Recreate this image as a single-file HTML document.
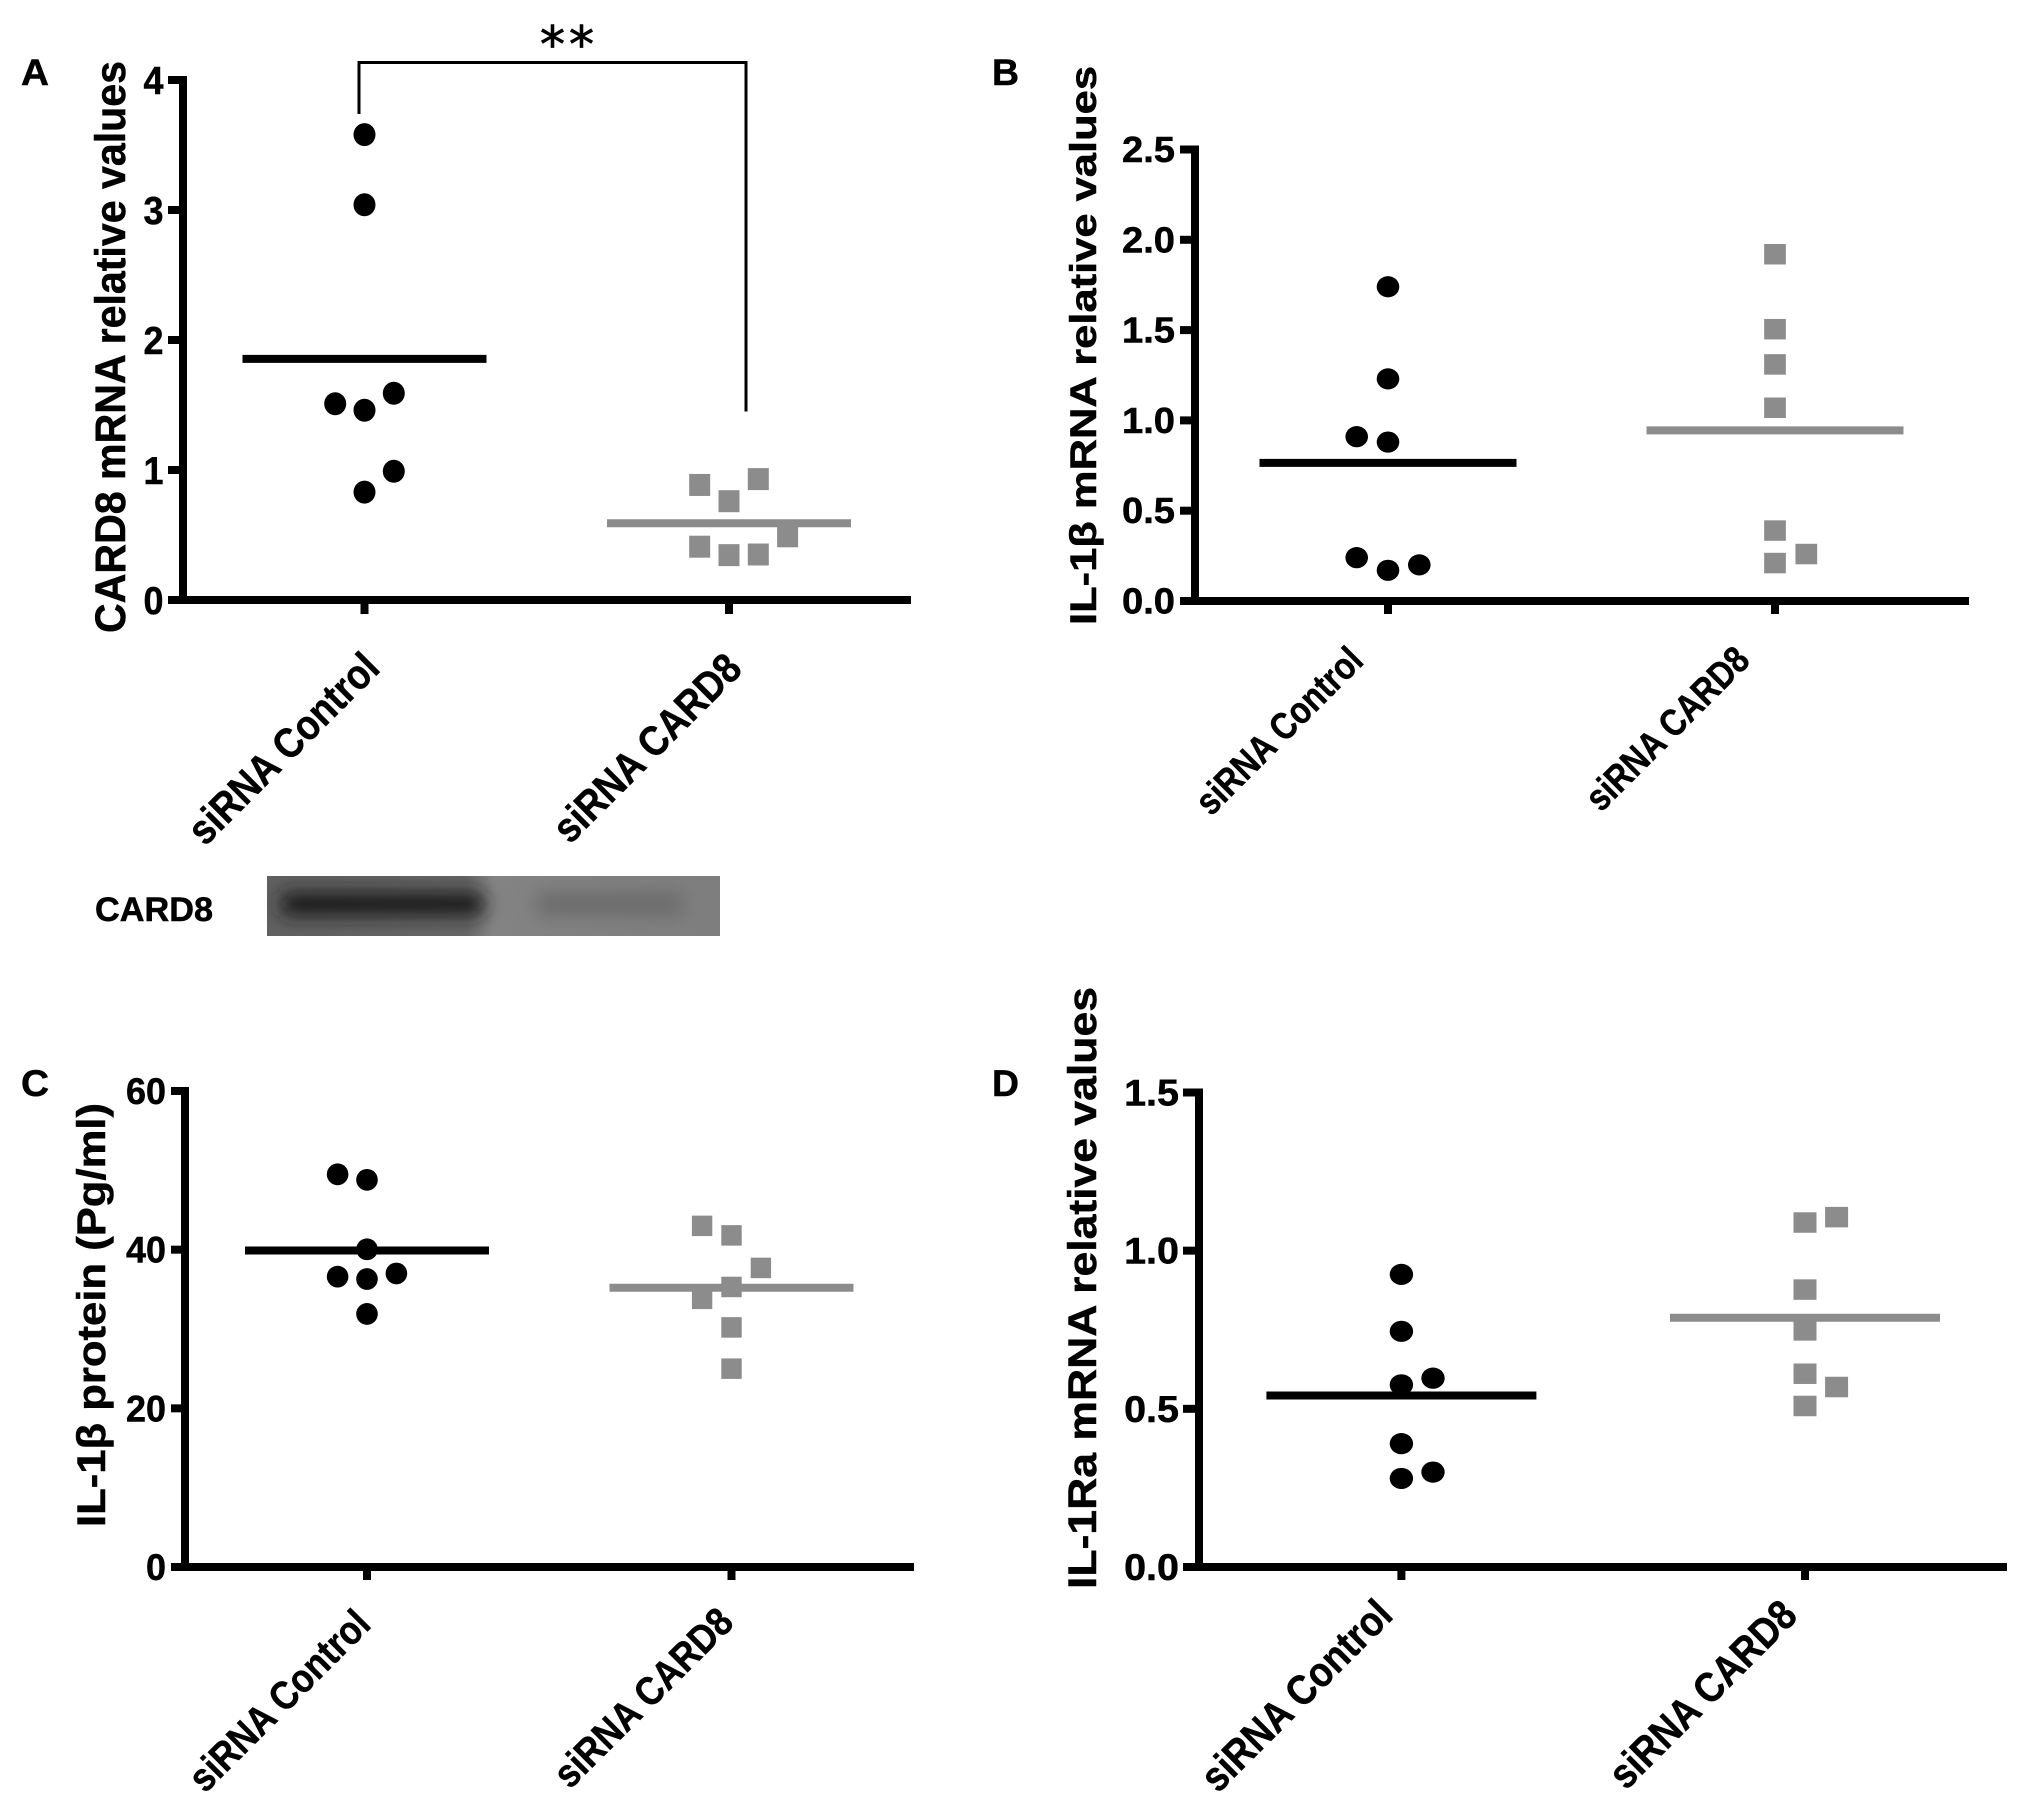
<!DOCTYPE html>
<html lang="en">
<head>
<meta charset="utf-8">
<title>CARD8 siRNA scatter panels</title>
<style>
  html, body { margin: 0; padding: 0; background: #fff; }
  svg { display: block; }
  text { font-family: "Liberation Sans", "DejaVu Sans", sans-serif; font-weight: bold; fill: #000; stroke: #000; stroke-width: 0.5px; }
</style>
</head>
<body>
<svg id="figure" xmlns="http://www.w3.org/2000/svg" width="2031" height="1814" viewBox="0 0 2031 1814">
  <defs>
    <clipPath id="blot-clip"><rect x="267" y="876" width="453" height="60"/></clipPath>
    <linearGradient id="blot-bg" x1="0" y1="0" x2="1" y2="0">
      <stop offset="0" stop-color="#606060"/>
      <stop offset="0.44" stop-color="#666666"/>
      <stop offset="0.5" stop-color="#838383"/>
      <stop offset="1" stop-color="#7e7e7e"/>
    </linearGradient>
    <filter id="blot-blur" x="-30%" y="-100%" width="160%" height="300%"><feGaussianBlur stdDeviation="9"/></filter>
  </defs>

  <rect width="2031" height="1814" fill="#fff"/>

  <g id="panel-a">
    <text x="21" y="85" font-size="37" textLength="28" lengthAdjust="spacingAndGlyphs">A</text>
    <text transform="translate(125,633) rotate(-90)" font-size="43" textLength="572" lengthAdjust="spacingAndGlyphs">CARD8 mRNA relative values</text>
    <path d="M359 114V62.5H746V411.5" fill="none" stroke="#000" stroke-width="3"/>
    <text x="540" y="62" font-size="50" letter-spacing="4" style="font-family:'DejaVu Sans',sans-serif;font-weight:normal;stroke-width:0.8px">**</text>
  </g>
  <g id="panel-b">
    <text x="992" y="85" font-size="37" textLength="27" lengthAdjust="spacingAndGlyphs">B</text>
    <text transform="translate(1096,625) rotate(-90)" font-size="37" textLength="559" lengthAdjust="spacingAndGlyphs">IL-1β mRNA relative values</text>
  </g>
  <g id="panel-c">
    <text x="21" y="1096" font-size="37" textLength="28" lengthAdjust="spacingAndGlyphs">C</text>
    <text transform="translate(105,1527) rotate(-90)" font-size="40" textLength="424" lengthAdjust="spacingAndGlyphs">IL-1β protein (Pg/ml)</text>
  </g>
  <g id="panel-d">
    <text x="992" y="1096" font-size="37" textLength="27" lengthAdjust="spacingAndGlyphs">D</text>
    <text transform="translate(1096,1589) rotate(-90)" font-size="40" textLength="602" lengthAdjust="spacingAndGlyphs">IL-1Ra mRNA relative values</text>
  </g>

  <g id="western-blot">
    <text x="95" y="921" font-size="34" textLength="118" lengthAdjust="spacingAndGlyphs">CARD8</text>
    <g clip-path="url(#blot-clip)">
      <rect x="267" y="876" width="453" height="60" fill="url(#blot-bg)"/>
      <rect x="280" y="892" width="205" height="24" rx="10" fill="#1c1c1c" filter="url(#blot-blur)"/>
      <rect x="535" y="892" width="150" height="24" rx="10" fill="#6c6c6c" filter="url(#blot-blur)"/>
    </g>
  </g>
</svg>

<script>
// ---- data ----
const categories = ['siRNA Control', 'siRNA CARD8'];

const ticksA = [0, 1, 2, 3, 4];
const tickLabelsA = ['0', '1', '2', '3', '4'];
const controlA = [3.58, 3.04, 1.59, 1.51, 1.46, 0.99, 0.83];
const controlSlotsA = [0, 0, 1, -1, 0, 1, 0];
const card8A = [0.93, 0.885, 0.76, 0.49, 0.41, 0.35, 0.345];
const card8SlotsA = [1, -1, 0, 2, -1, 1, 0];
const meansA = [1.855, 0.59];

const ticksB = [0, 0.5, 1, 1.5, 2, 2.5];
const tickLabelsB = ['0.0', '0.5', '1.0', '1.5', '2.0', '2.5'];
const controlB = [1.74, 1.23, 0.91, 0.88, 0.24, 0.2, 0.17];
const controlSlotsB = [0, 0, -1, 0, -1, 1, 0];
const card8B = [1.92, 1.505, 1.31, 1.07, 0.39, 0.26, 0.21];
const card8SlotsB = [0, 0, 0, 0, 0, 1, 0];
const meansB = [0.765, 0.945];

const ticksC = [0, 20, 40, 60];
const tickLabelsC = ['0', '20', '40', '60'];
const controlC = [49.5, 48.8, 40.05, 37, 36.6, 36.3, 31.9];
const controlSlotsC = [-1, 0, 0, 1, -1, 0, 0];
const card8C = [43, 41.8, 37.7, 35.3, 33.8, 30.2, 25];
const card8SlotsC = [-1, 0, 1, 0, -1, 0, 0];
const meansC = [39.9, 35.2];

const ticksD = [0, 0.5, 1, 1.5];
const tickLabelsD = ['0.0', '0.5', '1.0', '1.5'];
const controlD = [0.925, 0.745, 0.597, 0.576, 0.39, 0.3, 0.28];
const controlSlotsD = [0, 0, 1, 0, 0, 1, 0];
const card8D = [1.106, 1.089, 0.877, 0.748, 0.611, 0.569, 0.509];
const card8SlotsD = [1, 0, 0, 0, 0, 1, 0];
const meansD = [0.542, 0.788];

// ---- panel layouts ----
const panels = [
  { id: 'panel-a', key: 'a', ticks: ticksA, labels: tickLabelsA, control: controlA, controlSlots: controlSlotsA, card8: card8A, card8Slots: card8SlotsA, means: meansA,
    axisX: 183, y0: 600, yTop: 80, yMax: 4, left: 168, right: 911, cat0: 364.5, cat1: 729, step: 29.3, tickBottom: 614,
    rx: 11, ry: 11.5, sqW: 21, sqH: 22, halfMean: 122, labelEnd: 163.5, labelSize: 39, charW: 20, labelDrop: 14,
    textStart: [[205, 847], [570, 845]], textLen: [250, 246], textSize: 42 },
  { id: 'panel-b', key: 'b', ticks: ticksB, labels: tickLabelsB, control: controlB, controlSlots: controlSlotsB, card8: card8B, card8Slots: card8SlotsB, means: meansB,
    axisX: 1195, y0: 601, yTop: 149.5, yMax: 2.5, left: 1180, right: 1969, cat0: 1388, cat1: 1775, step: 31.3, tickBottom: 614,
    rx: 11.3, ry: 10.6, sqW: 21.7, sqH: 20.5, halfMean: 128.5, labelEnd: 1175, labelSize: 36, charW: 17.67, labelDrop: 12.5,
    textStart: [[1211, 817], [1601, 813]], textLen: [218, 213], textSize: 38 },
  { id: 'panel-c', key: 'c', ticks: ticksC, labels: tickLabelsC, control: controlC, controlSlots: controlSlotsC, card8: card8C, card8Slots: card8SlotsC, means: meansC,
    axisX: 185, y0: 1567, yTop: 1091, yMax: 60, left: 171, right: 914, cat0: 367, cat1: 731.5, step: 29.4, tickBottom: 1580,
    rx: 10.8, ry: 10.9, sqW: 20.4, sqH: 20.5, halfMean: 122, labelEnd: 166, labelSize: 37, charW: 20, labelDrop: 13,
    textStart: [[205, 1794], [570, 1790]], textLen: [237, 234], textSize: 40 },
  { id: 'panel-d', key: 'd', ticks: ticksD, labels: tickLabelsD, control: controlD, controlSlots: controlSlotsD, card8: card8D, card8Slots: card8SlotsD, means: meansD,
    axisX: 1199, y0: 1567, yTop: 1092.5, yMax: 1.5, left: 1183, right: 2007, cat0: 1401.4, cat1: 1805, step: 31.6, tickBottom: 1580,
    rx: 11.7, ry: 10.6, sqW: 23, sqH: 20.5, halfMean: 135, labelEnd: 1179, labelSize: 37, charW: 18.3, labelDrop: 13,
    textStart: [[1218, 1794], [1626, 1791]], textLen: [250, 245], textSize: 42 }
];

const NS = 'http://www.w3.org/2000/svg';
const BLACK = '#000000';
const GREY = '#8c8c8c';
const STROKE = 8;

function shape(parent, tag, attrs) {
  const node = document.createElementNS(NS, tag);
  Object.keys(attrs).forEach(function (k) { node.setAttribute(k, attrs[k]); });
  parent.appendChild(node);
  return node;
}

function drawPanel(p) {
  const root = document.getElementById(p.id);
  const yScale = function (v) { return p.y0 - (v / p.yMax) * (p.y0 - p.yTop); };
  const xScale = function (cat, slot) { return (cat === 0 ? p.cat0 : p.cat1) + slot * p.step; };

  // y axis line
  const yAxis = shape(root, 'line', { x1: p.axisX, x2: p.axisX, y1: yScale(p.yMax) - STROKE / 2, y2: p.y0, stroke: BLACK, 'stroke-width': STROKE });
  
  

  // x axis line
  const xAxis = shape(root, 'line', { x1: p.left, x2: p.right, y1: p.y0, y2: p.y0, stroke: BLACK, 'stroke-width': STROKE });
  
  

  // y ticks and labels
  p.ticks.forEach(function (t, i) {
    const y = yScale(t);
    const tick = shape(root, 'line', { x1: p.left, x2: p.axisX, y1: y, y2: y, stroke: BLACK, 'stroke-width': STROKE });
    
    
    const label = shape(root, 'text', { x: p.labelEnd, y: y + p.labelDrop, 'font-size': p.labelSize, 'text-anchor': 'end', textLength: p.charW * p.labels[i].length, lengthAdjust: 'spacingAndGlyphs' });
    label.textContent = p.labels[i];
    
    
  });

  // x ticks and category labels
  categories.forEach(function (name, c) {
    const x = xScale(c, 0);
    const tick = shape(root, 'line', { x1: x, x2: x, y1: p.y0, y2: p.tickBottom, stroke: BLACK, 'stroke-width': STROKE });
    
    
    const start = p.textStart[c];
    const label = shape(root, 'text', { transform: 'translate(' + start[0] + ',' + start[1] + ') rotate(-45)', 'font-size': p.textSize, textLength: p.textLen[c], lengthAdjust: 'spacingAndGlyphs' });
    label.textContent = name;
    
    
  });

  // control points (circles)
  p.control.forEach(function (v, i) {
    const dot = shape(root, 'ellipse', { cx: xScale(0, p.controlSlots[i]), cy: yScale(v), rx: p.rx, ry: p.ry, fill: BLACK });
    
    
  });

  // CARD8 points (squares)
  p.card8.forEach(function (v, i) {
    const sq = shape(root, 'rect', { x: xScale(1, p.card8Slots[i]) - p.sqW / 2, y: yScale(v) - p.sqH / 2, width: p.sqW, height: p.sqH, fill: GREY });
    
    
  });

  // mean lines
  p.means.forEach(function (m, c) {
    const x = xScale(c, 0);
    const line = shape(root, 'line', { x1: x - p.halfMean, x2: x + p.halfMean, y1: yScale(m), y2: yScale(m), stroke: c === 0 ? BLACK : GREY, 'stroke-width': STROKE });
    
    
  });
}

panels.forEach(drawPanel);
</script>
</body>
</html>
